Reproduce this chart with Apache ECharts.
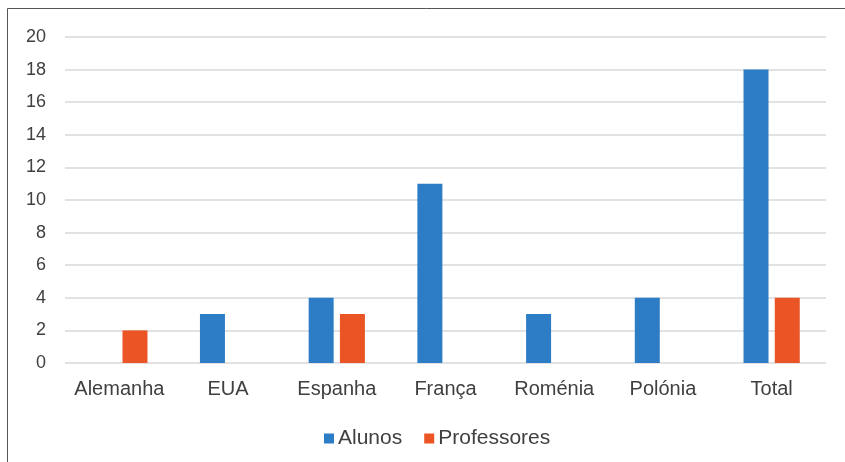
<!DOCTYPE html>
<html>
<head>
<meta charset="utf-8">
<script src="https://cdn.jsdelivr.net/npm/echarts@6/dist/echarts.min.js"></script>
<style>
  html, body { margin: 0; padding: 0; background: #fff; }
  #chart { width: 845px; height: 462px; }
</style>
</head>
<body>
<div id="chart"></div>
<script>
// Countries of the exchange, with the totals in the last column
const categories = ['Alemanha', 'EUA', 'Espanha', 'França', 'Roménia', 'Polónia', 'Total'];
const alunos = [0, 3, 4, 11, 3, 4, 18];
const professores = [2, 0, 3, 0, 0, 0, 4];
const seriesNames = ['Alunos', 'Professores'];

const chart = echarts.init(document.getElementById('chart'), null, { renderer: 'canvas' });

const fontFamily = 'Liberation Sans, Arial, sans-serif';
const textColor = '#404040';

chart.setOption({
  animation: false,
  backgroundColor: '#fff',
  graphic: [{
    type: 'rect',
    shape: { x: 7.5, y: 8.5, width: 850, height: 470 },
    style: { fill: 'none', stroke: '#555', lineWidth: 1 },
    silent: true
  }],
  grid: { left: 65, right: 19, top: 37, bottom: 99, containLabel: false },
  legend: {
    top: 423,
    left: 319,
    itemWidth: 10,
    itemHeight: 10,
    itemGap: 22,
    icon: 'rect',
    textStyle: { color: textColor, fontSize: 21, fontFamily: fontFamily, padding: [0, 0, 0, -1] },
    data: seriesNames
  },
  xAxis: {
    type: 'category',
    data: categories,
    axisLine: { show: false },
    axisTick: { show: false },
    axisLabel: { color: textColor, fontSize: 20, fontFamily: fontFamily, margin: 16, interval: 0 }
  },
  yAxis: {
    type: 'value',
    min: 0,
    max: 20,
    interval: 2,
    axisLine: { show: false },
    axisTick: { show: false },
    axisLabel: { color: textColor, fontSize: 18, fontFamily: fontFamily, margin: 19 },
    splitLine: { lineStyle: { color: '#d9d9d9', width: 1.5 } }
  },
  series: [
    {
      name: seriesNames[0],
      type: 'bar',
      data: alunos,
      barWidth: 25,
      barGap: '25%',
      itemStyle: { color: '#2C7DC5' }
    },
    {
      name: seriesNames[1],
      type: 'bar',
      data: professores,
      barWidth: 25,
      barGap: '25%',
      itemStyle: { color: '#EB5424' }
    }
  ]
});
</script>
</body>
</html>
